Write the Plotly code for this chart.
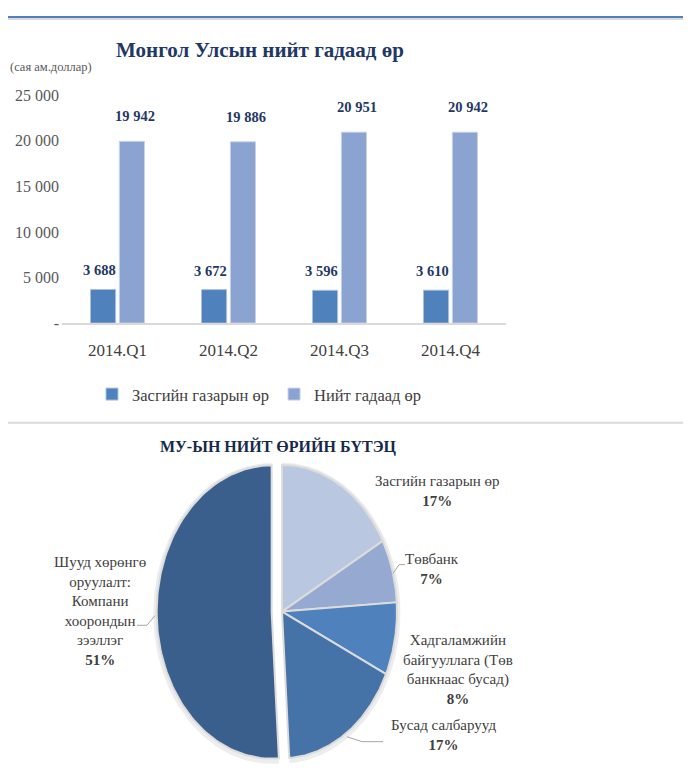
import numpy as np
import plotly.graph_objects as go

# --- data ---
quarters = ["2014.Q1", "2014.Q2", "2014.Q3", "2014.Q4"]
gov_debt = [3688, 3672, 3596, 3610]
total_debt = [19942, 19886, 20951, 20942]
y_tick_vals = [0, 5000, 10000, 15000, 20000, 25000]
y_tick_text = ["-", "5 000", "10 000", "15 000", "20 000", "25 000"]

pie_names = ["Засгийн газарын өр", "Төвбанк",
             "Хадгаламжийн<br>байгууллага (Төв<br>банкнаас бусад)",
             "Бусад салбарууд",
             "Шууд хөрөнгө<br>оруулалт:<br>Компани<br>хоорондын<br>зээллэг"]
pie_shares = [17, 7, 8, 17, 51]
pie_colors = ["#b9c7e1", "#95a9d1", "#4f81bd", "#4573a8", "#3b5f8d"]
pie_pull = [0, 0, 0, 0, 0.09]

# page has an 8px body margin, so the figure is a bit smaller than the window
OFF = 8
W, H = 691 - OFF, 780 - OFF
SERIF = "Liberation Serif, Times New Roman, serif"
NAVY = "#1f3864"


def fx(p):
    return (p - OFF) / W


def fy(p):
    return 1 - (p - OFF) / H


def fmt(v):
    return f"{v:,}".replace(",", " ")


fig = go.Figure()

# --- bar chart ---
fig.add_trace(go.Bar(x=quarters, y=gov_debt, name="Засгийн газарын өр",
                     marker=dict(color="#4f81bd", line=dict(color="#a9c0e0", width=1)),
                     xaxis="x", yaxis="y", hoverinfo="skip"))
fig.add_trace(go.Bar(x=quarters, y=total_debt, name="Нийт гадаад өр",
                     marker=dict(color="#8ba3d0", line=dict(color="#c5d2ea", width=1)),
                     xaxis="x", yaxis="y", hoverinfo="skip"))

annotations = []
for q, g, t in zip(quarters, gov_debt, total_debt):
    annotations.append(dict(x=q, y=g, xref="x", yref="y", text=f"<b>{fmt(g)}</b>",
                            showarrow=False, xshift=-18, yshift=9, xanchor="center", yanchor="bottom",
                            font=dict(family=SERIF, size=14.5, color=NAVY)))
    annotations.append(dict(x=q, y=t, xref="x", yref="y", text=f"<b>{fmt(t)}</b>",
                            showarrow=False, xshift=17, yshift=15, xanchor="center", yanchor="bottom",
                            font=dict(family=SERIF, size=14.5, color=NAVY)))

annotations.append(dict(x=fx(260), y=fy(43), xref="paper", yref="paper",
                        xanchor="center", yanchor="middle",
                        text="<b>Монгол Улсын нийт гадаад өр</b>", showarrow=False,
                        font=dict(family=SERIF, size=21, color=NAVY)))
annotations.append(dict(x=fx(8), y=fy(60), xref="paper", yref="paper",
                        xanchor="left", yanchor="middle",
                        text="(сая ам.доллар)", showarrow=False,
                        font=dict(family=SERIF, size=12.5, color="#595959")))

# --- pie chart (elliptical, drawn on its own axes) ---
total = sum(pie_shares)
wedges = []
start = 0.0
for share, pull in zip(pie_shares, pie_pull):
    end = start + share / total * 2 * np.pi
    t = np.linspace(start, end, 120)
    mid = (start + end) / 2
    wedges.append((t, pull * np.sin(mid), pull * np.cos(mid)))
    start = end

# soft shadow behind the slices
for t, dx, dy in wedges:
    xs = np.concatenate([[0], 1.03 * np.sin(t), [0]]) + dx
    ys = np.concatenate([[0], 1.025 * np.cos(t), [0]]) + dy - 0.01
    fig.add_trace(go.Scatter(x=xs, y=ys, mode="lines", fill="toself",
                             fillcolor="rgba(0,0,0,0.07)", line=dict(width=0),
                             xaxis="x2", yaxis="y2", showlegend=False, hoverinfo="skip"))

for (t, dx, dy), color in zip(wedges, pie_colors):
    xs = np.concatenate([[0], np.sin(t), [0]]) + dx
    ys = np.concatenate([[0], np.cos(t), [0]]) + dy
    fig.add_trace(go.Scatter(x=xs, y=ys, mode="lines", fill="toself", fillcolor=color,
                             line=dict(color="#dcdcdc", width=2), xaxis="x2", yaxis="y2",
                             showlegend=False, hoverinfo="skip"))

annotations.append(dict(x=fx(278), y=fy(448), xref="paper", yref="paper",
                        xanchor="center", yanchor="middle",
                        text="<b>МУ-ЫН НИЙТ ӨРИЙН БҮТЭЦ</b>", showarrow=False,
                        font=dict(family=SERIF, size=16, color="#17294a")))

label_pos = [(437, 494), (432, 573), (458, 676), (443, 743), (100, 616)]
for name, share, (lx, ly) in zip(pie_names, pie_shares, label_pos):
    annotations.append(dict(x=fx(lx), y=fy(ly), xref="paper", yref="paper",
                            xanchor="center", yanchor="middle",
                            text=f"{name}<br><b>{share}%</b>", showarrow=False,
                            font=dict(family=SERIF, size=15, color="#404040")))

leaders = [[(137, 631), (147, 631), (155, 621)],
           [(393, 578), (399, 569), (405, 569)],
           [(347, 745), (362, 750), (383, 750)]]
shapes = []
for pts in leaders:
    for (x0, y0), (x1, y1) in zip(pts[:-1], pts[1:]):
        shapes.append(dict(type="line", xref="paper", yref="paper",
                           x0=fx(x0), y0=fy(y0), x1=fx(x1), y1=fy(y1),
                           line=dict(color="#a6a6a6", width=1)))

# frame lines
shapes.append(dict(type="line", xref="paper", yref="paper", x0=0, x1=1, y0=fy(9), y1=fy(9),
                   line=dict(color="#4f81bd", width=2)))
shapes.append(dict(type="line", xref="paper", yref="paper", x0=0, x1=1, y0=fy(11), y1=fy(11),
                   line=dict(color="#d9d9d9", width=2)))
shapes.append(dict(type="line", xref="paper", yref="paper", x0=0, x1=1, y0=fy(424), y1=fy(424),
                   line=dict(color="#d9d9d9", width=2)))

# pie axes: 1 unit = 115 px horizontally, 150 px vertically, centre at (282, 617)
cx, cy, ax_, by_ = 282 - OFF, 617 - OFF, 115, 150
pie_top = 432 - OFF

fig.update_layout(
    width=W, height=H,
    margin=dict(l=0, r=0, t=0, b=0),
    paper_bgcolor="white", plot_bgcolor="white",
    font=dict(family=SERIF),
    barmode="group", bargap=0.48, bargroupgap=0.13,
    xaxis=dict(domain=[fx(62), fx(506)], anchor="y", showline=True, linecolor="#d9d9d9",
               linewidth=2, showgrid=False, ticks="", ticklabelstandoff=11,
               tickfont=dict(family=SERIF, size=17, color="#404040")),
    yaxis=dict(domain=[fy(322), fy(89)], anchor="x", range=[0, 25000],
               tickvals=y_tick_vals, ticktext=y_tick_text, showgrid=False,
               zeroline=False, showline=False, ticks="", ticklabelstandoff=2,
               tickfont=dict(family=SERIF, size=16, color="#595959")),
    xaxis2=dict(domain=[0, 1], anchor="y2", range=[-cx / ax_, (W - cx) / ax_],
                visible=False, fixedrange=True),
    yaxis2=dict(domain=[0, 1 - pie_top / H], anchor="x2",
                range=[-(H - cy) / by_, (cy - pie_top) / by_], visible=False, fixedrange=True),
    legend=dict(orientation="h", x=fx(92), y=fy(377), xanchor="left", yanchor="top",
                font=dict(family=SERIF, size=16.5, color="#404040"),
                bgcolor="rgba(0,0,0,0)", itemclick=False),
    annotations=annotations,
    shapes=shapes,
    showlegend=True,
)

fig.write_html("out.html")
